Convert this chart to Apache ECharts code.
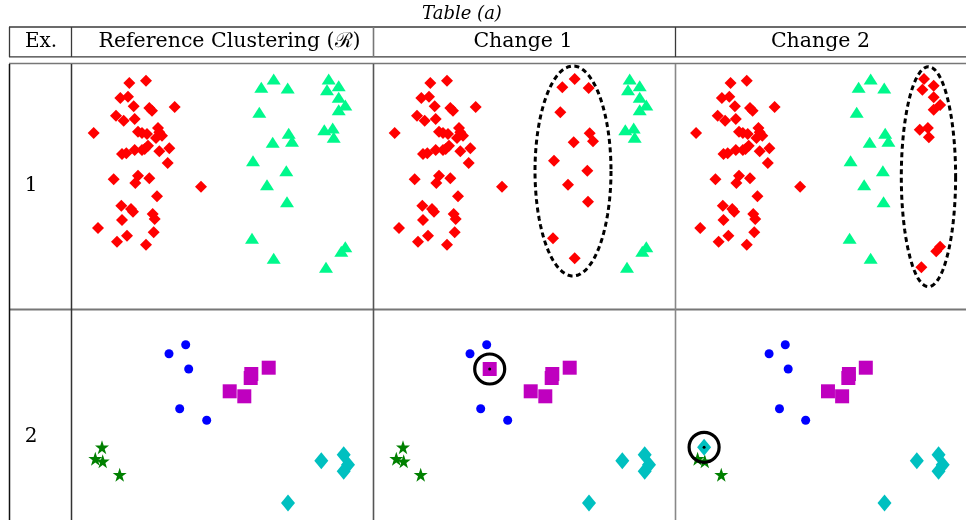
<!DOCTYPE html>
<html><head><meta charset="utf-8">
<script src="https://cdn.jsdelivr.net/npm/echarts@6/dist/echarts.min.js"></script>
<style>html,body{margin:0;padding:0;background:#fff}#c{width:966px;height:520px}</style>
</head><body><div id="c"></div>
<script>
// ---- data (local panel pixel units, y downward) ----
const columns = ["Reference Clustering (\u211B)", "Change 1", "Change 2"];
const rowLabels = ["1", "2"];
const row1Red = [[57.3,19],[74,16.7],[48.3,34],[56,32.7],[61.7,42.3],[77.3,44],[80,46.7],[102.7,43],[44,51.7],[51.7,56.7],[62.7,55],[21.7,69],[66,67.7],[70,69],[75,70],[86,64],[84,74],[90,71.7],[87.3,68.3],[50,90],[54.3,89.3],[62.7,86],[70,86],[72.7,85],[76,81.7],[87.3,87.3],[97.3,84.3],[95.7,99],[41.7,115.3],[66,111.7],[63.3,119],[77.3,114.3],[129,122.7],[85,132.3],[49.3,141.7],[59,145],[61,147.7],[80.7,150],[82.7,155],[50,156],[26,164],[81.7,168.3],[55,171.7],[45,177.7],[74,180.7]];
const row1Mid = [[201.7,15],[189.3,23.3],[215.7,24],[187.3,48.3],[216.7,69.3],[220,77.3],[200.7,78.3],[181,96.7],[214.3,106.7],[195,120.7],[215,137.7],[180,174.3],[201.7,194.3]];
const row1Right = [[256.7,15],[255,25.7],[266.7,21.7],[266.7,33.3],[273.3,41],[266.7,45.7],[252.3,65.7],[260.7,64],[261.7,73.3],[269.3,187.3],[273.3,182.7],[254,203.3]];
const row2Blue = [[113.7,36.7],[97,45.7],[116.7,61],[107.7,100.7],[134.7,112.3]];
const row2Magenta = [[179.3,66],[178.7,70],[196.7,59.7],[157.7,83.3],[172.3,88.3]];
const row2Stars = [[30,139.3],[23.3,150.7],[30.7,153.3],[47.7,166.7]];
const row2Cyan = [[249.3,152.7],[271.7,146.7],[276,156.7],[271.7,163.3],[216,195]];
const ellipseC1 = [200, 107, 38, 105];   // cx, cy, rx, ry
const ellipseC2 = [261.3, 112.7, 28, 110];
const movedBlue = 2;  // blue point reassigned in Change 1
const movedStar = 0;  // star reassigned in Change 2

// ---- layout ----
const colX = [72, 373, 675];
const rowY = [64, 308];
const rowH = [244, 212];
const PW = 300;

const chart = echarts.init(document.getElementById('c'), null, {renderer: 'canvas'});
const grids = [], xAxes = [], yAxes = [], series = [];
function addPanel(r, c) {
  const i = grids.length;
  grids.push({left: colX[c], top: rowY[r], width: PW, height: rowH[r], show: false});
  xAxes.push({gridIndex: i, type: 'value', min: 0, max: PW, show: false});
  yAxes.push({gridIndex: i, type: 'value', min: 0, max: rowH[r], inverse: true, show: false});
  return i;
}
function sc(i, data, symbol, size, color, extra) {
  series.push(Object.assign({type: 'scatter', xAxisIndex: i, yAxisIndex: i, data: data, symbol: symbol,
    symbolSize: size, itemStyle: {color: color, opacity: 1}, silent: true, animation: false, clip: false}, extra || {}));
}
function ellipse(i, e) {
  const pts = [];
  for (let k = 0; k <= 160; k++) { const t = k / 160 * Math.PI * 2; pts.push([e[0] + e[2] * Math.cos(t), e[1] + e[3] * Math.sin(t)]); }
  series.push({type: 'line', xAxisIndex: i, yAxisIndex: i, data: pts, showSymbol: false, smooth: false,
    lineStyle: {color: '#000', width: 3, type: [5, 3.5], cap: 'butt'}, silent: true, animation: false, clip: false, z: 5});
}
function highlight(i, p) {
  sc(i, [p], 'circle', 30, 'rgba(0,0,0,0)', {itemStyle: {color: 'rgba(0,0,0,0)', borderColor: '#000', borderWidth: 3.2, opacity: 1}, z: 6});
  sc(i, [p], 'circle', 3, '#000', {z: 7});
}
const RED = '#ff0000', TRI = '#00f88c', BLUE = '#0000ff', MAG = '#bf00bf', STAR = '#008000', CYAN = '#00c0c0';
const starPath = 'path://M12 0 L14.9 8.6 L24 8.6 L16.6 14 L19.4 22.8 L12 17.4 L4.6 22.8 L7.4 14 L0 8.6 L9.1 8.6 Z';
const DIA = [12, 12], TRS = [14, 11];

// row 1
let p = addPanel(0, 0);
sc(p, row1Red, 'diamond', DIA, RED); sc(p, row1Mid.concat(row1Right), 'triangle', TRS, TRI);
p = addPanel(0, 1);
sc(p, row1Right, 'triangle', TRS, TRI); sc(p, row1Red.concat(row1Mid), 'diamond', DIA, RED); ellipse(p, ellipseC1);
p = addPanel(0, 2);
sc(p, row1Mid, 'triangle', TRS, TRI); sc(p, row1Red.concat(row1Right), 'diamond', DIA, RED); ellipse(p, ellipseC2);
// row 2
function row2(c, blue, mag, stars, cyan, hl) {
  const i = addPanel(1, c);
  sc(i, blue, 'circle', 9, BLUE);
  sc(i, mag, 'rect', 14, MAG);
  sc(i, stars, starPath, 14, STAR);
  sc(i, cyan, 'diamond', [14, 17], CYAN);
  if (hl) highlight(i, hl);
}
row2(0, row2Blue, row2Magenta, row2Stars, row2Cyan, null);
row2(1, row2Blue.filter((_, k) => k !== movedBlue), row2Magenta.concat([row2Blue[movedBlue]]), row2Stars, row2Cyan, row2Blue[movedBlue]);
row2(2, row2Blue, row2Magenta, row2Stars.filter((_, k) => k !== movedStar), row2Cyan.concat([row2Stars[movedStar]]), row2Stars[movedStar]);

// ---- table rules & text ----
const LC = '#3a3a3a', GC = '#777';
function hline(y, x1, x2, col, w) { return {type: 'line', shape: {x1: x1, y1: y, x2: x2, y2: y}, style: {stroke: col, lineWidth: w}, z: 100, silent: true}; }
function vline(x, y1, y2, col, w) { return {type: 'line', shape: {x1: x, y1: y1, x2: x, y2: y2}, style: {stroke: col, lineWidth: w}, z: 100, silent: true}; }
const FONT = '"DejaVu Serif", "Liberation Serif", serif';
const graphics = [
  hline(27, 9, 966, LC, 1.3), hline(56.8, 9, 966, LC, 1.3), hline(63.5, 9, 966, GC, 1.6), hline(309.5, 9, 966, GC, 2),
  vline(9.5, 27, 57, LC, 1.3), vline(71.5, 27, 57, LC, 1.3), vline(373.5, 27, 57, GC, 1.6), vline(675.5, 27, 57, LC, 1.3),
  vline(9.5, 64, 520, '#111', 1.5), vline(71.5, 64, 520, '#333', 1.5), vline(373.5, 64, 520, '#555', 1.6), vline(675.5, 64, 520, '#888', 1.6),
  {type: 'text', x: 462, y: 14, style: {text: 'Table (a)', font: 'italic 18px ' + FONT, fill: '#000', textAlign: 'center', textVerticalAlign: 'middle'}, z: 100},
  {type: 'text', x: 41, y: 42, style: {text: 'Ex.', font: '20px ' + FONT, fill: '#000', textAlign: 'center', textVerticalAlign: 'middle'}, z: 100}
];
columns.forEach((t, c) => {
  const cx = [229.5, 523, 820.5][c];
  graphics.push({type: 'text', x: cx, y: 42, style: {text: t, font: '20.5px ' + FONT, fill: '#000', textAlign: 'center', textVerticalAlign: 'middle'}, z: 100});
});
rowLabels.forEach((t, r) => {
  graphics.push({type: 'text', x: 31, y: [186, 437][r], style: {text: t, font: '20px ' + FONT, fill: '#000', textAlign: 'center', textVerticalAlign: 'middle'}, z: 100});
});

chart.setOption({animation: false, backgroundColor: '#fff', grid: grids, xAxis: xAxes, yAxis: yAxes, series: series, graphic: graphics});
</script></body></html>
